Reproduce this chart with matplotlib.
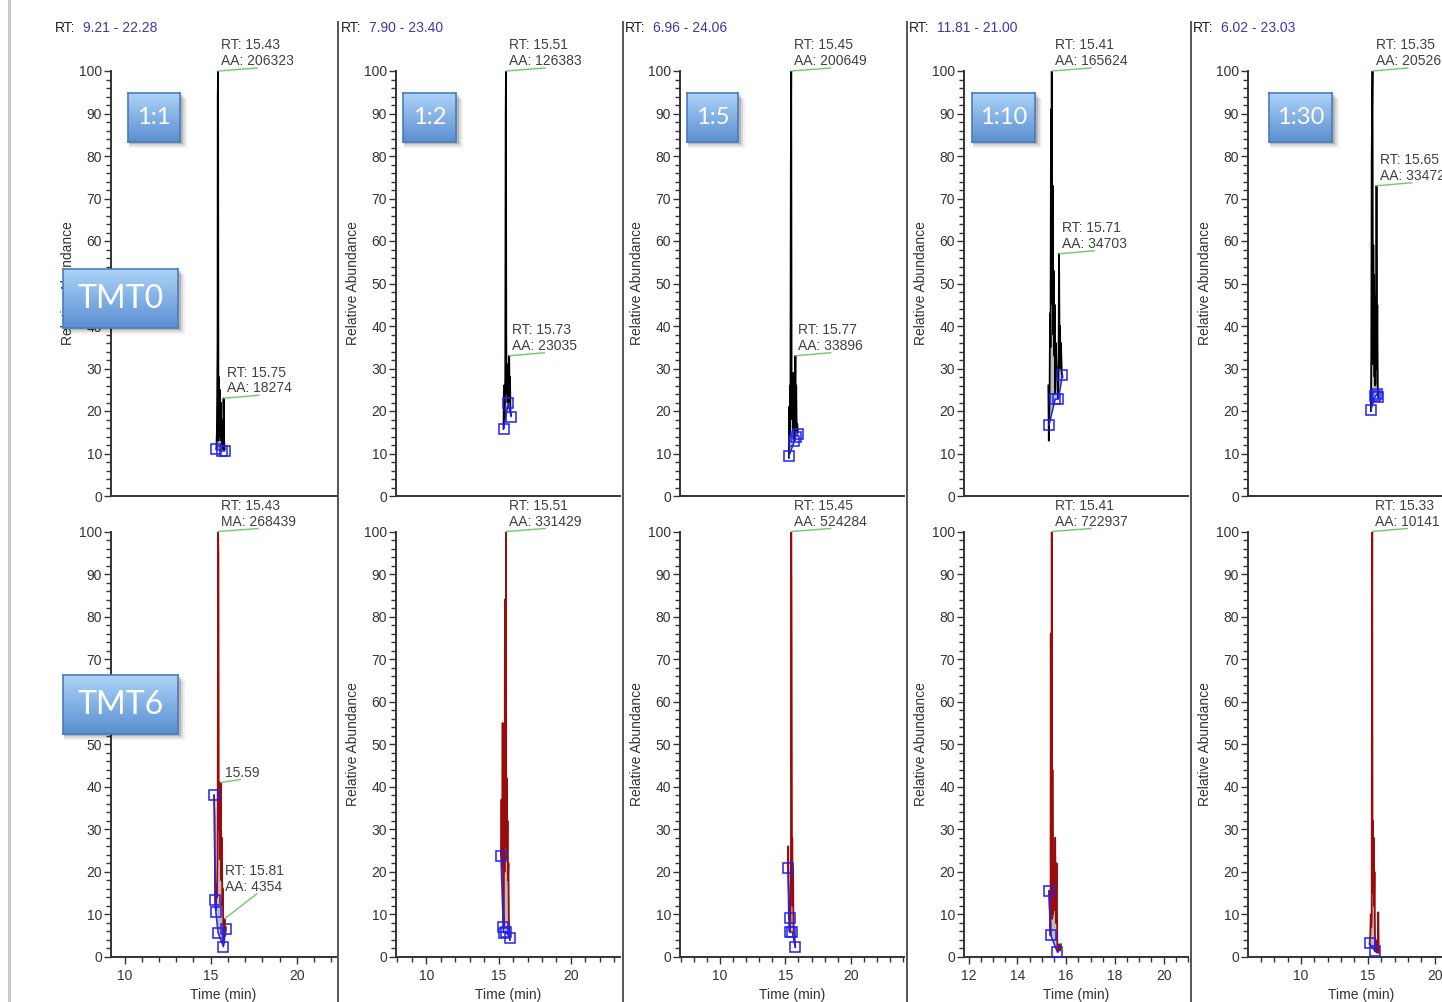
import numpy as np
import matplotlib
matplotlib.use('Agg')
import matplotlib.pyplot as plt
from matplotlib.ticker import MultipleLocator
from matplotlib.patches import Rectangle
from matplotlib.lines import Line2D
from matplotlib.colors import LinearSegmentedColormap

plt.rcParams['font.family'] = ['Liberation Sans', 'DejaVu Sans']

W, H = 1442, 1002

ratios = ['1:1', '1:2', '1:5', '1:10', '1:30']
rt_ranges = [(9.21, 22.28), (7.90, 23.40), (6.96, 24.06), (11.81, 21.00), (6.02, 23.03)]
x_major = [5, 5, 5, 2, 5]
x_minor = [1, 1, 1, 0.5, 1]

# TMT0 row (black traces)
tmt0_t1 = [15.33, 15.36, 15.38, 15.40, 15.41, 15.43, 15.45, 15.47, 15.50, 15.53, 15.56, 15.59, 15.62, 15.65, 15.68, 15.71, 15.73, 15.75, 15.78, 15.81]
tmt0_v1 = [11, 15, 24, 36, 94, 100, 13, 28, 17, 25, 14, 22, 13, 18, 12, 16, 11, 23, 13, 11]
tmt0_sq_t1 = [15.33, 15.68, 15.81]
tmt0_sq_v1 = [11, 10.6, 10.6]

tmt0_t2 = [15.34, 15.37, 15.40, 15.43, 15.46, 15.49, 15.51, 15.53, 15.56, 15.59, 15.62, 15.65, 15.67, 15.70, 15.73, 15.76, 15.79, 15.82, 15.86]
tmt0_v2 = [16, 26, 18, 22, 28, 90, 100, 37, 24, 31, 22, 28, 22, 26, 33, 24, 28, 20, 19]
tmt0_sq_t2 = [15.34, 15.67, 15.86]
tmt0_sq_v2 = [15.7, 21.8, 18.7]

tmt0_t3 = [15.27, 15.30, 15.33, 15.36, 15.39, 15.42, 15.45, 15.48, 15.51, 15.54, 15.57, 15.60, 15.63, 15.66, 15.70, 15.74, 15.77, 15.80, 15.83, 15.87, 15.91, 15.95]
tmt0_v3 = [9, 21, 14, 26, 18, 77, 100, 22, 27, 18, 24, 15, 29, 20, 13, 24, 33, 17, 26, 15, 17, 15]
tmt0_sq_t3 = [15.27, 15.70, 15.78, 15.95]
tmt0_sq_v3 = [9.4, 13, 14, 14.6]

tmt0_t4 = [15.27, 15.29, 15.30, 15.32, 15.34, 15.36, 15.38, 15.40, 15.41, 15.43, 15.45, 15.47, 15.49, 15.51, 15.53, 15.55, 15.58, 15.61, 15.64, 15.67, 15.69, 15.71, 15.73, 15.75, 15.77, 15.79, 15.82, 15.85]
tmt0_v4 = [26, 13, 17, 22, 43, 35, 91, 60, 100, 45, 73, 38, 53, 33, 45, 24, 36, 28, 30, 23, 33, 57, 35, 40, 30, 36, 29, 28]
tmt0_sq_t4 = [15.30, 15.55, 15.68, 15.85]
tmt0_sq_v4 = [16.7, 22.8, 22.8, 28.5]

tmt0_t5 = [15.23, 15.26, 15.29, 15.32, 15.35, 15.38, 15.41, 15.44, 15.47, 15.50, 15.53, 15.56, 15.59, 15.62, 15.65, 15.68, 15.71, 15.74, 15.76]
tmt0_v5 = [20, 34, 79, 91, 100, 31, 59, 36, 52, 28, 47, 26, 38, 30, 73, 34, 45, 27, 23]
tmt0_sq_t5 = [15.23, 15.56, 15.69, 15.76]
tmt0_sq_v5 = [20.3, 23.5, 24, 23.2]

tmt0_labels = [
    [("RT: 15.43\nAA: 206323", 15.43, 100), ("RT: 15.75\nAA: 18274", 15.75, 23)],
    [("RT: 15.51\nAA: 126383", 15.51, 100), ("RT: 15.73\nAA: 23035", 15.73, 33)],
    [("RT: 15.45\nAA: 200649", 15.45, 100), ("RT: 15.77\nAA: 33896", 15.77, 33)],
    [("RT: 15.41\nAA: 165624", 15.41, 100), ("RT: 15.71\nAA: 34703", 15.71, 57)],
    [("RT: 15.35\nAA: 20526", 15.35, 100), ("RT: 15.65\nAA: 33472", 15.65, 73)],
]

# TMT6 row (red traces)
tmt6_t1 = [15.20, 15.23, 15.26, 15.30, 15.33, 15.36, 15.39, 15.41, 15.43, 15.45, 15.47, 15.50, 15.53, 15.56, 15.59, 15.62, 15.65, 15.68, 15.71, 15.74, 15.77, 15.81, 15.84, 15.88]
tmt6_v1 = [38, 33, 13, 11, 17, 14, 22, 40, 100, 95, 30, 41, 23, 36, 41, 18, 28, 12, 16, 3, 7, 9, 5, 7]
tmt6_sq_t1 = [15.20, 15.26, 15.30, 15.43, 15.74, 15.88]
tmt6_sq_v1 = [38, 13.4, 10.6, 5.7, 2.4, 6.5]

tmt6_t2 = [15.16, 15.20, 15.24, 15.28, 15.32, 15.35, 15.38, 15.41, 15.44, 15.47, 15.49, 15.51, 15.53, 15.56, 15.59, 15.62, 15.65, 15.68, 15.71, 15.75, 15.79]
tmt6_v2 = [24, 37, 21, 55, 12, 7, 33, 20, 84, 26, 40, 100, 28, 42, 23, 32, 18, 22, 9, 6, 4]
tmt6_sq_t2 = [15.16, 15.32, 15.34, 15.51, 15.79]
tmt6_sq_v2 = [23.8, 7.1, 5.7, 5.9, 4.4]

tmt6_t3 = [15.19, 15.22, 15.25, 15.28, 15.30, 15.32, 15.35, 15.38, 15.41, 15.43, 15.45, 15.48, 15.51, 15.53, 15.56, 15.59, 15.62, 15.65, 15.68, 15.72, 15.76]
tmt6_v3 = [21, 26, 14, 9, 13, 6, 11, 8, 17, 24, 100, 73, 18, 28, 12, 21, 9, 6, 5.6, 4, 2.3]
tmt6_sq_t3 = [15.19, 15.32, 15.34, 15.53, 15.76]
tmt6_sq_v3 = [20.8, 9.2, 5.8, 5.9, 2.3]

tmt6_t4 = [15.30, 15.32, 15.34, 15.36, 15.37, 15.39, 15.41, 15.43, 15.44, 15.46, 15.48, 15.50, 15.52, 15.55, 15.58, 15.61, 15.64, 15.67, 15.71, 15.75, 15.79]
tmt6_v4 = [15.5, 12, 9, 5, 76, 11, 100, 9, 44, 10, 14, 21, 11, 28, 8, 22, 2, 1.2, 3, 1.5, 3]
tmt6_sq_t4 = [15.30, 15.36, 15.64]
tmt6_sq_v4 = [15.5, 5.2, 1.2]

tmt6_t5 = [15.13, 15.18, 15.22, 15.26, 15.29, 15.31, 15.33, 15.35, 15.38, 15.41, 15.44, 15.47, 15.50, 15.53, 15.56, 15.60, 15.65, 15.70, 15.74, 15.78, 15.82]
tmt6_v5 = [3, 5, 10, 7, 9, 76, 100, 24, 32, 15, 28, 12, 20, 6, 1.3, 4, 2, 1, 2, 10.5, 1]
tmt6_sq_t5 = [15.13, 15.56]
tmt6_sq_v5 = [3.2, 1.3]

tmt6_labels = [
    [("RT: 15.43\nMA: 268439", 15.43, 100), ("15.59", 15.59, 41), ("RT: 15.81\nAA: 4354", 15.81, 9)],
    [("RT: 15.51\nAA: 331429", 15.51, 100)],
    [("RT: 15.45\nAA: 524284", 15.45, 100)],
    [("RT: 15.41\nAA: 722937", 15.41, 100)],
    [("RT: 15.33\nAA: 10141", 15.33, 100)],
]

tmt0_traces = [(tmt0_t1, tmt0_v1, tmt0_sq_t1, tmt0_sq_v1), (tmt0_t2, tmt0_v2, tmt0_sq_t2, tmt0_sq_v2),
               (tmt0_t3, tmt0_v3, tmt0_sq_t3, tmt0_sq_v3), (tmt0_t4, tmt0_v4, tmt0_sq_t4, tmt0_sq_v4),
               (tmt0_t5, tmt0_v5, tmt0_sq_t5, tmt0_sq_v5)]
tmt6_traces = [(tmt6_t1, tmt6_v1, tmt6_sq_t1, tmt6_sq_v1), (tmt6_t2, tmt6_v2, tmt6_sq_t2, tmt6_sq_v2),
               (tmt6_t3, tmt6_v3, tmt6_sq_t3, tmt6_sq_v3), (tmt6_t4, tmt6_v4, tmt6_sq_t4, tmt6_sq_v4),
               (tmt6_t5, tmt6_v5, tmt6_sq_t5, tmt6_sq_v5)]

# layout in pixels
col_left = [111, 396, 680, 964, 1248]
col_right = [336, 620, 904, 1188, 1475]
rt_text_x = [55, 341, 625, 909, 1193]
row_top = [71, 531.5]
row_bot = [496, 957]
separators = [338, 623, 907, 1191]
label_offsets = {"15.59": (4, 3, 0.45), "RT: 15.81\nAA: 4354": (0, 25, 0.55)}
# tick labels that sit fully under the TMT tags in the first column
hidden_ticks = {0: [50], 1: [60]}

INK = '#333333'
BLUE = '#2222ee'
GREEN = '#6acb6a'

fig = plt.figure(figsize=(W / 100, H / 100), dpi=100)


def fx(px):
    return px / W


def fy(py):
    return 1 - py / H


def draw_panel(ax, trace, labels, color):
    t, v, sq_t, sq_v = [np.asarray(a, dtype=float) for a in trace]
    base = np.interp(t, sq_t, sq_v)
    inside = (t >= sq_t[0]) & (t <= sq_t[-1])
    ax.fill_between(t, base, v, where=inside & (v >= base), interpolate=True,
                    color='#bdbdbd', lw=0, zorder=1)
    ax.plot(t, v, color=color, lw=1.3, zorder=2)
    ax.plot(sq_t, sq_v, color=BLUE, lw=1.1, zorder=3)
    ax.plot(sq_t, sq_v, ls='none', marker='s', ms=7, mfc='none', mec=BLUE, mew=1.1, zorder=4)
    for text, tp, vp in labels:
        dx, dy, rel = label_offsets.get(text, (3, 3, 0.5))
        ax.annotate(text, xy=(tp, vp), xytext=(dx, dy), textcoords='offset pixels',
                    ha='left', va='bottom', fontsize=10, color='#404040', linespacing=1.15,
                    annotation_clip=False,
                    arrowprops=dict(arrowstyle='-', color=GREEN, lw=1.0, shrinkA=0, shrinkB=0,
                                    patchA=None, relpos=(rel, 0)))


for row, (traces, labels, color) in enumerate([(tmt0_traces, tmt0_labels, 'black'),
                                                (tmt6_traces, tmt6_labels, '#9a0c0c')]):
    for c in range(5):
        wpx = col_right[c] - col_left[c]
        hpx = row_bot[row] - row_top[row]
        ax = fig.add_axes([fx(col_left[c]), fy(row_bot[row]), wpx / W, hpx / H])
        ax.set_xlim(*rt_ranges[c])
        ax.set_ylim(0, 100)
        ax.patch.set_alpha(0)
        draw_panel(ax, traces[c], labels[c], color)
        for s in ['top', 'right']:
            ax.spines[s].set_visible(False)
        for s in ['left', 'bottom']:
            ax.spines[s].set_color(INK)
            ax.spines[s].set_linewidth(1.4)
        ax.xaxis.set_major_locator(MultipleLocator(x_major[c]))
        ax.xaxis.set_minor_locator(MultipleLocator(x_minor[c]))
        ax.yaxis.set_major_locator(MultipleLocator(10))
        ax.yaxis.set_minor_locator(MultipleLocator(2))
        ax.tick_params(which='both', direction='out', color=INK, width=1.0,
                       labelsize=10, labelcolor=INK)
        ax.tick_params(which='major', length=5, pad=1.5)
        ax.tick_params(which='minor', length=3.5)
        ax.tick_params(axis='x', which='major', pad=4)
        if not (row == 1 and c == 0):
            ax.set_ylabel('Relative Abundance', fontsize=10, color=INK)
            ax.yaxis.set_label_coords(-36 / wpx, 0.5)
        if c == 0:
            ax.yaxis.set_major_formatter(
                lambda val, pos, hide=hidden_ticks[row]: '' if round(val) in hide else f'{val:.0f}')
        if row == 0:
            ax.tick_params(axis='x', which='both', bottom=False, labelbottom=False)
        else:
            ax.set_xlabel('Time (min)', fontsize=10, color=INK)
            ax.xaxis.set_label_coords(0.5, -31 / hpx)

# RT range headers
for c in range(5):
    lo, hi = rt_ranges[c]
    fig.text(fx(rt_text_x[c]), fy(28), 'RT:', fontsize=10, color='#222222', va='center')
    fig.text(fx(rt_text_x[c] + 28), fy(28), f'{lo:.2f} - {hi:.2f}', fontsize=10,
             color='#3a3aa8', va='center')

# panel separators and left border
for x in separators:
    fig.add_artist(Line2D([fx(x), fx(x)], [fy(22), fy(H)], color='#555555', lw=1.4, zorder=3))
fig.add_artist(Line2D([fx(9), fx(9)], [0, 1], color='#c8c8c8', lw=2.2, zorder=3))

# blue tags
cmap = LinearSegmentedColormap.from_list('tag', ['#acd3f8', '#5a8fd1'])
grad = np.linspace(0, 1, 64).reshape(-1, 1)


def tag(text, x0, y0, x1, y1, size):
    for off, a in [(6, 0.06), (4, 0.10), (2, 0.16)]:
        fig.add_artist(Rectangle((fx(x0 + 1), fy(y1 + off)), (x1 - x0 + off) / W, (y1 - y0) / H,
                                 transform=fig.transFigure, color='black', alpha=a, lw=0, zorder=8))
    bax = fig.add_axes([fx(x0), fy(y1), (x1 - x0) / W, (y1 - y0) / H], zorder=10)
    bax.imshow(grad, aspect='auto', cmap=cmap, extent=(0, 1, 0, 1))
    bax.set_xticks([])
    bax.set_yticks([])
    for s in bax.spines.values():
        s.set_color('#4a7bb9')
        s.set_linewidth(1.2)
    bax.text(0.5, 0.5, text, color='white', fontsize=size, ha='center', va='center',
             transform=bax.transAxes, family=['Lato', 'DejaVu Sans'])


tag_x = [(128, 180), (403, 456), (687, 738), (972, 1035), (1269, 1332)]
for c in range(5):
    tag(ratios[c], tag_x[c][0], 93, tag_x[c][1], 142, 17)
tag('TMT0', 63, 269, 178, 328, 23)
tag('TMT6', 63, 675, 178, 734, 23)

fig.savefig('out.png', dpi=100, facecolor='white')
